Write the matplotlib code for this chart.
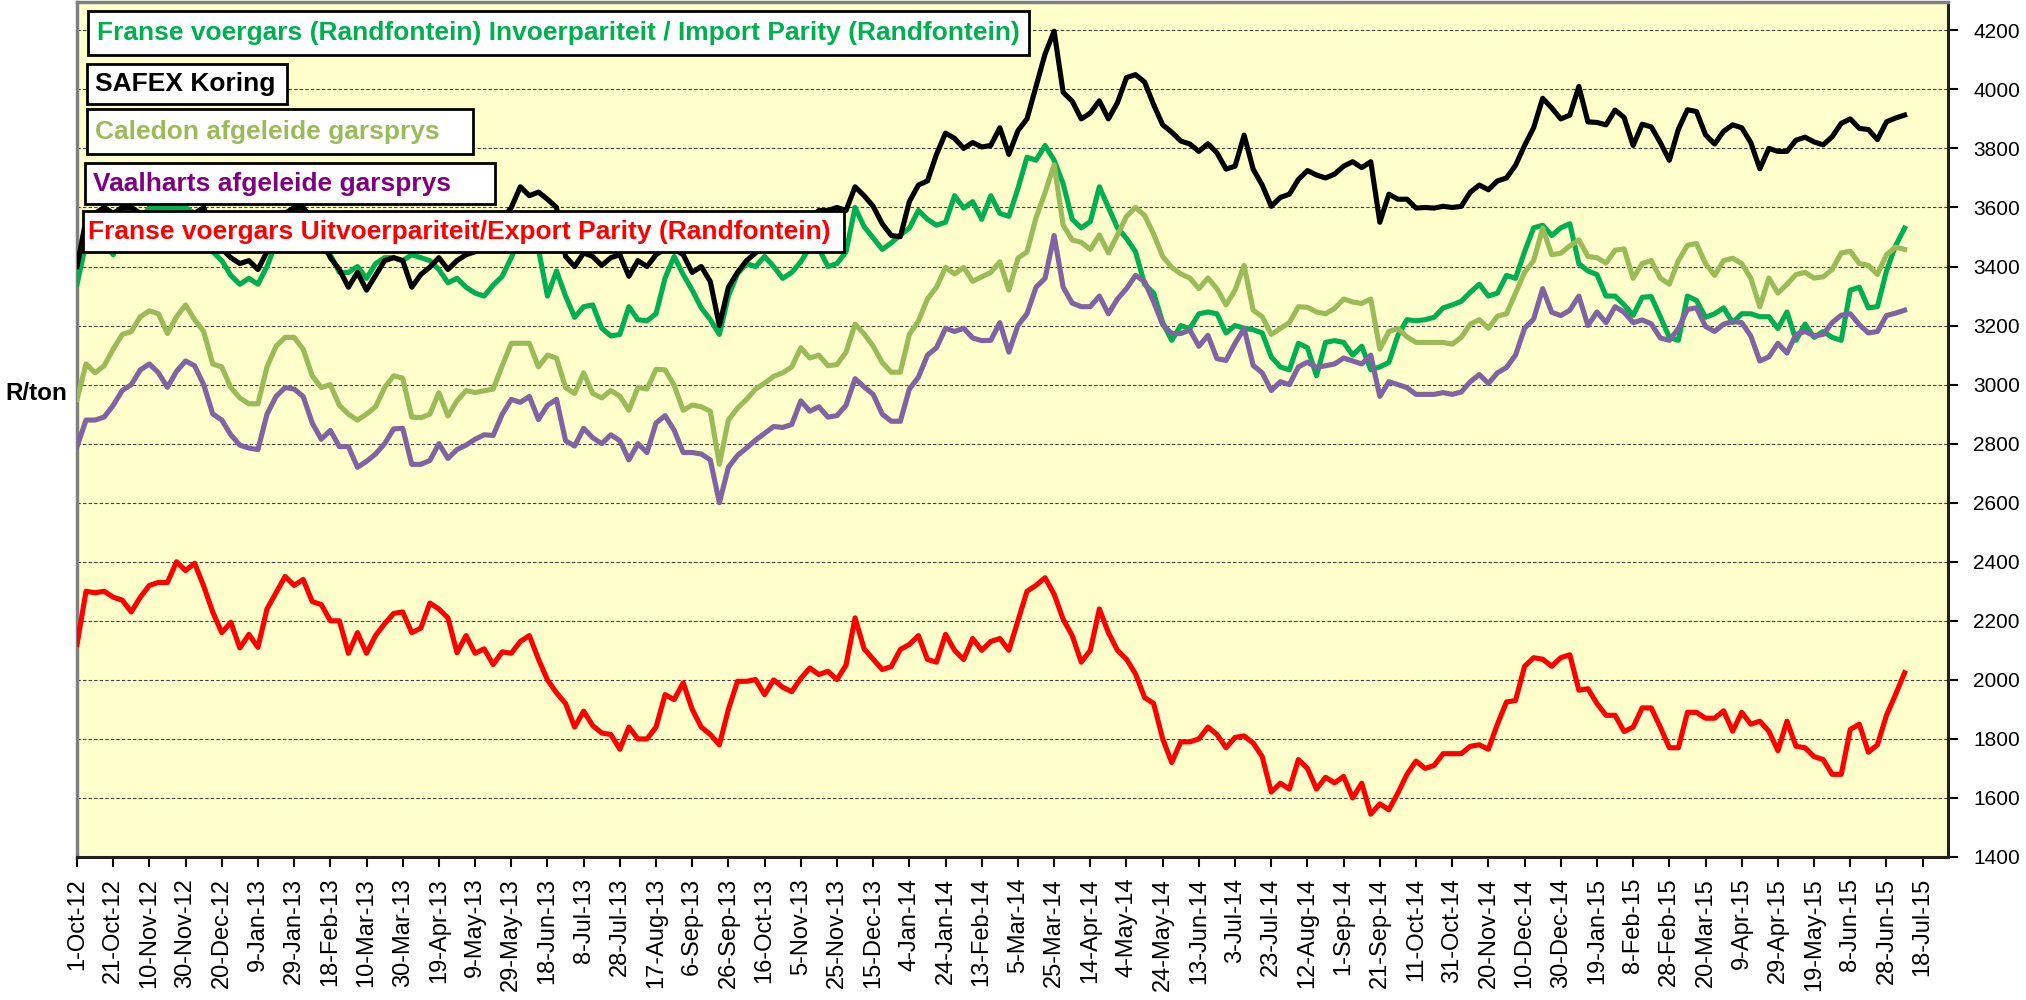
import matplotlib
matplotlib.use('Agg')
import matplotlib.pyplot as plt
from matplotlib.patches import Rectangle
import pandas as pd

plt.rcParams['font.family'] = ['Liberation Sans', 'DejaVu Sans']

# prices in R/ton, one reading every 5 days from 1-Oct-12 to 8-Jul-15
dates = pd.date_range('2012-10-01', periods=203, freq='5D')

safex_koring = [
    3400, 3560, 3580, 3600, 3580, 3600, 3600, 3580, 3560, 3560, 3560, 3570, 3560, 3580, 3600, 3520, 3460, 3430,
    3410, 3420, 3390, 3450, 3520, 3580, 3600, 3600, 3560, 3500, 3430, 3390, 3330, 3380, 3320, 3370, 3420,
    3430, 3420, 3330, 3373, 3398, 3430, 3390, 3420, 3440, 3450, 3480, 3520, 3560, 3600, 3670, 3640, 3652,
    3628, 3600, 3434, 3400, 3446, 3434, 3404, 3430, 3440, 3367, 3420, 3400, 3440, 3460, 3460, 3440, 3380,
    3400, 3349, 3200, 3330, 3380, 3420, 3446, 3470, 3490, 3500, 3520, 3540, 3560, 3590, 3590, 3600, 3590,
    3670, 3640, 3604, 3545, 3505, 3501, 3620, 3676, 3690, 3780, 3852, 3834, 3800, 3820, 3805, 3810, 3870,
    3780, 3860,
    3900, 4010, 4120, 4197, 3990, 3960, 3900, 3920, 3961, 3900, 3955, 4040, 4050, 4025, 3948, 3880, 3855,
    3825, 3815, 3790, 3816, 3785, 3730, 3740, 3845, 3730, 3676, 3604, 3634, 3645, 3695, 3725, 3710, 3700,
    3713,
    3740, 3755, 3735, 3755, 3550, 3645, 3628, 3628, 3598, 3600, 3598, 3604, 3600, 3604, 3652, 3676, 3660,
    3690, 3700, 3743, 3810, 3870, 3970, 3937, 3900, 3913, 4010, 3890, 3888, 3880, 3930, 3905, 3810, 3882,
    3873, 3820, 3760,
    3865, 3931, 3925, 3846, 3815, 3858, 3880, 3870, 3820, 3731, 3800, 3790, 3790, 3828, 3838, 3822, 3812,
    3840, 3885, 3900, 3868, 3864, 3830, 3890, 3903, 3913,
]

import_parity = [
    3340, 3480, 3500, 3480, 3440, 3520, 3560, 3560, 3600, 3600, 3600, 3600, 3600, 3580, 3560, 3450, 3420, 3370,
    3340, 3360, 3340, 3400, 3480, 3560, 3560, 3540, 3500, 3460, 3440, 3380, 3380, 3400, 3360, 3410, 3430,
    3430, 3420, 3440, 3430, 3420, 3390, 3345, 3360, 3330, 3310, 3300, 3337, 3367, 3430, 3500, 3480, 3460,
    3300, 3385, 3300, 3228, 3264, 3270, 3191, 3165, 3170, 3264, 3220, 3216, 3240, 3361, 3434, 3373, 3320,
    3260, 3220, 3170, 3300, 3375, 3410, 3400, 3434, 3400, 3360, 3380, 3416, 3465, 3460, 3400, 3410, 3450,
    3600, 3535, 3497, 3458, 3480, 3507, 3530, 3590, 3560, 3540, 3550, 3640, 3598, 3620, 3560, 3640, 3580,
    3570, 3664,
    3770, 3760, 3810, 3760, 3680, 3560, 3531, 3552, 3670, 3600, 3531, 3495, 3450, 3340, 3310, 3210, 3150,
    3200, 3190, 3240, 3246, 3240, 3175, 3200, 3191, 3186, 3175, 3094, 3060, 3050, 3140, 3125, 3030, 3143,
    3149,
    3143, 3100, 3130, 3050, 3060, 3075, 3167, 3220, 3216, 3220, 3228, 3260, 3270, 3282, 3313, 3340, 3300,
    3310, 3370, 3360, 3450, 3531, 3540, 3505, 3531, 3545, 3410, 3385, 3373, 3300, 3300, 3270, 3235, 3296,
    3298, 3230, 3160,
    3150, 3300, 3285, 3228, 3240, 3260, 3210, 3240, 3240, 3230, 3230, 3190, 3246, 3150, 3205, 3160, 3180,
    3160, 3150, 3320, 3330, 3260, 3264, 3385, 3470, 3530,
]

caledon = [
    2950, 3070, 3040, 3064, 3120, 3170, 3180, 3230, 3250, 3240, 3173, 3230, 3270, 3220, 3180, 3070, 3060, 2990,
    2955, 2935, 2935, 3060, 3130, 3160, 3160, 3120, 3030, 2990, 3000, 2930, 2900, 2880, 2900, 2925, 2990,
    3030, 3022, 2890, 2888, 2900, 2973, 2894, 2945, 2980, 2973, 2979, 2985, 3064, 3140, 3140, 3140, 3060,
    3100, 3090, 2990, 2970, 3040, 2970, 2955, 2980, 2961, 2913, 2991, 2985, 3052, 3050, 2998, 2913, 2931,
    2925, 2910, 2730, 2880, 2920, 2950, 2985, 3005, 3028, 3040, 3060, 3125, 3090, 3100, 3064, 3068, 3110,
    3205, 3172, 3130, 3075, 3042, 3042, 3170, 3215, 3290, 3330, 3397, 3375, 3397, 3350, 3365, 3380, 3416,
    3320, 3428,
    3450, 3565, 3650, 3745, 3540, 3490, 3482, 3458, 3507, 3446, 3507, 3570, 3600, 3573, 3510, 3434, 3397,
    3375, 3361, 3325, 3361, 3325, 3270, 3320, 3404, 3252, 3230, 3170, 3190, 3210, 3264, 3262, 3246, 3240,
    3258,
    3290, 3280, 3275, 3290, 3120, 3180, 3190, 3162, 3143, 3143, 3143, 3143, 3137, 3160, 3205, 3220, 3191,
    3232, 3240, 3310, 3380, 3420, 3530, 3440, 3445, 3470, 3490, 3434, 3430, 3412, 3455, 3460, 3360, 3410,
    3420, 3361, 3340,
    3420, 3472, 3478, 3410, 3370, 3420, 3428, 3410, 3361, 3264, 3361, 3310, 3340, 3373, 3380, 3361, 3365,
    3390, 3446, 3452, 3410, 3404, 3373, 3440, 3466, 3458,
]

vaalharts = [
    2790, 2880, 2880, 2890, 2930, 2980, 3000, 3050, 3070, 3040, 2991, 3045, 3080, 3064, 3000, 2901, 2880, 2830,
    2795, 2785, 2780, 2900, 2960, 2990, 2985, 2960, 2870, 2815, 2845, 2790, 2790, 2720, 2740, 2765, 2800,
    2850, 2852, 2730, 2730, 2743, 2800, 2750, 2780, 2795, 2815, 2830, 2828, 2900, 2950, 2940, 2960, 2882,
    2930, 2950, 2810, 2792, 2852, 2820, 2800, 2830, 2810, 2745, 2800, 2770, 2870, 2895, 2846, 2770, 2770,
    2765, 2745, 2600, 2720, 2760, 2785, 2812, 2835, 2858, 2855, 2865, 2945, 2910, 2925, 2890, 2895, 2930,
    3020, 2992, 2967, 2900, 2876, 2876, 2985, 3025, 3100, 3125, 3191, 3180, 3191, 3158, 3149, 3150, 3210,
    3110, 3200,
    3240, 3330, 3360, 3505, 3330, 3276, 3264, 3264, 3300, 3240, 3290, 3325, 3370, 3349, 3280, 3203, 3173,
    3173, 3185, 3130, 3167, 3088, 3082, 3140, 3190, 3065, 3040, 2980, 3010, 3000, 3060, 3076, 3058, 3064,
    3070,
    3090, 3080, 3070, 3100, 2960, 3010, 3000, 2990, 2967, 2967, 2967, 2973, 2967, 2975, 3010, 3034, 3004,
    3040, 3058, 3100, 3191, 3222, 3325, 3245, 3234, 3252, 3300, 3200, 3246, 3210, 3264, 3245, 3210, 3219,
    3206, 3158, 3150,
    3190, 3255, 3260, 3197, 3180, 3205, 3214, 3210, 3165, 3080, 3094, 3140, 3107, 3170, 3180, 3165, 3170,
    3210, 3235, 3240, 3203, 3175, 3180, 3234, 3242, 3252,
]

export_parity = [
    2120, 2300, 2295, 2300, 2280, 2270, 2230, 2280, 2320, 2330, 2330, 2400, 2370, 2395, 2318, 2230, 2160, 2195,
    2108, 2154, 2110, 2240, 2295, 2350, 2320, 2340, 2265, 2255, 2200, 2200, 2090, 2160, 2090, 2150, 2190,
    2225, 2230, 2160, 2175, 2260, 2240, 2210, 2092, 2150, 2090, 2105, 2052, 2095, 2090, 2130, 2150, 2070,
    2000, 1956, 1920, 1840, 1894, 1845, 1820, 1815, 1765, 1840, 1800, 1800, 1840, 1950, 1933, 1990, 1900,
    1840, 1815, 1780, 1900, 1995, 1995, 2001, 1950, 2000, 1975, 1960, 2005, 2040, 2018, 2029, 2001, 2050,
    2210, 2105, 2070, 2035, 2045, 2103, 2120, 2150, 2069, 2060, 2154, 2100, 2069, 2140, 2100, 2130, 2140,
    2100, 2200, 2300, 2320, 2346, 2290, 2205, 2150, 2060, 2100, 2240, 2160, 2100, 2070, 2020, 1940, 1920,
    1800, 1720, 1790, 1790, 1800, 1840, 1815, 1770, 1805, 1810, 1786, 1740, 1620, 1650, 1630, 1730, 1700,
    1630, 1670, 1651,
    1673, 1600, 1650, 1545, 1580, 1560, 1617, 1680, 1725, 1700, 1710, 1750, 1750, 1750, 1775, 1780, 1765,
    1850, 1925, 1930, 2046, 2075, 2070, 2046, 2075, 2085, 1965, 1970, 1920, 1880, 1880, 1825, 1840, 1905,
    1905, 1840, 1770, 1770, 1890, 1890, 1870, 1870, 1895, 1826, 1890, 1850, 1860, 1826, 1760, 1860, 1775,
    1770, 1740, 1730, 1680, 1680, 1832, 1850, 1755, 1780, 1880, 1950, 2024,
]

# x axis ticks every 20 days, y axis every 200
tick_dates = pd.date_range('2012-10-01', '2015-07-18', freq='20D')
tick_labels = [f"{d.day}-{d.strftime('%b-%y')}" for d in tick_dates]
y_ticks = list(range(1400, 4201, 200))

legend_items = [
    ("Franse voergars (Randfontein) Invoerpariteit / Import Parity (Randfontein)", '#00B050'),
    ("SAFEX Koring", 'black'),
    ("Caledon afgeleide garsprys", '#9BBB59'),
    ("Vaalharts afgeleide garsprys", '#7F007F'),
    ("Franse voergars Uitvoerpariteit/Export Parity (Randfontein)", '#FF0000'),
]

W, H = 2026, 1000
fig = plt.figure(figsize=(W / 100, H / 100), dpi=100)
# plot area: left 77px, right 1948px, top 2px, bottom 857px
ax = fig.add_axes([77 / W, 1 - 857 / H, (1948 - 77) / W, (857 - 2) / H])
ax.set_facecolor('#FFFFCC')

lw = 3.7
ax.plot(dates, import_parity, color='#00B050', lw=lw, zorder=3)
ax.plot(dates, safex_koring, color='black', lw=lw, zorder=4)
ax.plot(dates, caledon, color='#9BBB59', lw=lw, zorder=3)
ax.plot(dates, vaalharts, color='#8064A2', lw=lw, zorder=4)
ax.plot(dates, export_parity, color='#FF0000', lw=lw, zorder=4)

ax.set_xlim(pd.Timestamp('2012-10-01'), pd.Timestamp('2015-08-01'))
ax.set_ylim(1400, 4296)

ax.set_yticks(y_ticks)
ax.yaxis.tick_right()
ax.grid(axis='y', color='#404040', linestyle=(0, (3, 2)), linewidth=0.8, zorder=1)
ax.set_axisbelow(True)

ax.set_xticks(tick_dates)
ax.set_xticklabels(tick_labels, rotation=90)
ax.tick_params(axis='x', direction='out', length=7, width=1.5, pad=8, labelsize=17)
ax.tick_params(axis='y', direction='out', length=7, width=1.5, pad=11, labelsize=15)

ax.spines['left'].set_color('#808080')
ax.spines['left'].set_linewidth(2.5)
ax.spines['top'].set_color('#808080')
ax.spines['top'].set_linewidth(2.5)
ax.spines['right'].set_color('#202020')
ax.spines['right'].set_linewidth(2.2)
ax.spines['bottom'].set_color('#202020')
ax.spines['bottom'].set_linewidth(2.2)

fig.text(5 / W, 1 - 393 / H, 'R/ton', fontsize=17.5, fontweight='bold', va='center', ha='left')

# text boxes standing in for the legend: box left, right, top, bottom and text left, in pixels
boxes = [
    (88, 1029, 11, 55, 97),
    (87, 287, 64, 104, 95),
    (87, 473, 109, 154, 95),
    (85, 495, 163, 204, 93),
    (83, 844, 211, 252, 88),
]
for (label, color), (x0, x1, y0, y1, tx) in zip(legend_items, boxes):
    fig.add_artist(Rectangle((x0 / W, 1 - y1 / H), (x1 - x0) / W, (y1 - y0) / H,
                             transform=fig.transFigure, facecolor='white', edgecolor='black',
                             linewidth=2, zorder=10))
    fig.text(tx / W, 1 - (y0 + y1) / 2 / H, label, color=color, fontsize=19, fontweight='bold',
             va='center', ha='left', zorder=11)

fig.savefig('out.png', dpi=100)
